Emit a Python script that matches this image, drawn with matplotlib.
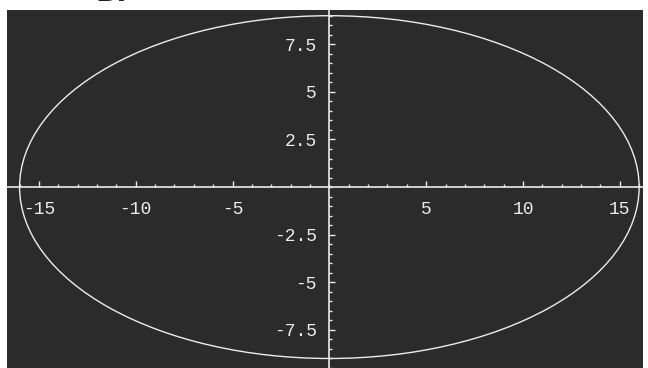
import matplotlib.pyplot as plt
from matplotlib.patches import Ellipse
from matplotlib.ticker import MultipleLocator, FixedLocator

plt.rcParams['axes.unicode_minus'] = False

# ellipse semi-axes
semi_x = 16
semi_y = 9

x_ticks = [-15, -10, -5, 5, 10, 15]
x_labels = ["-15", "-10", "-5", "5", "10", "15"]
y_ticks = [-7.5, -5, -2.5, 2.5, 5, 7.5]
y_labels = ["-7.5", "-5", "-2.5", "2.5", "5", "7.5"]

bg = "#2b2b2b"
fg = "#ececec"

fig = plt.figure(figsize=(6.48, 3.68), dpi=100)
fig.patch.set_facecolor("white")
ax = fig.add_axes([7 / 648, 0.0, 636 / 648, 1 - 10 / 368])
ax.set_facecolor(bg)

ax.add_patch(Ellipse((0, 0), 2 * semi_x, 2 * semi_y, fill=False,
                     edgecolor=fg, lw=1.0))

ax.set_xlim(-16.65, 16.2)
ax.set_ylim(-9.5, 9.3)

# axes through the origin, mathematica style
for side in ["top", "right"]:
    ax.spines[side].set_visible(False)
ax.spines["left"].set_position("zero")
ax.spines["bottom"].set_position("zero")
for side in ["left", "bottom"]:
    ax.spines[side].set_color(fg)
    ax.spines[side].set_linewidth(1.2)

ax.xaxis.set_major_locator(FixedLocator(x_ticks))
ax.set_xticklabels(x_labels)
ax.yaxis.set_major_locator(FixedLocator(y_ticks))
ax.set_yticklabels(y_labels)
ax.xaxis.set_minor_locator(MultipleLocator(1))
ax.yaxis.set_minor_locator(MultipleLocator(0.5))

ax.tick_params(which="both", direction="in", colors=fg, width=1)
ax.tick_params(which="major", length=4.5)
ax.tick_params(which="minor", length=2.2)
ax.tick_params(axis="x", which="major", pad=10)
ax.tick_params(axis="y", which="major", pad=9)
for lab in ax.get_xticklabels() + ax.get_yticklabels():
    lab.set_family("Liberation Mono")
    lab.set_fontsize(13)
    lab.set_color(fg)

# scanned panel letter, mostly cut off at the top
fig.text(0.148, 1 - 1 / 368, "B.", fontsize=20, fontweight="bold",
         color="#222222", va="baseline", ha="left")

fig.savefig("out.png", dpi=100, facecolor="white")
